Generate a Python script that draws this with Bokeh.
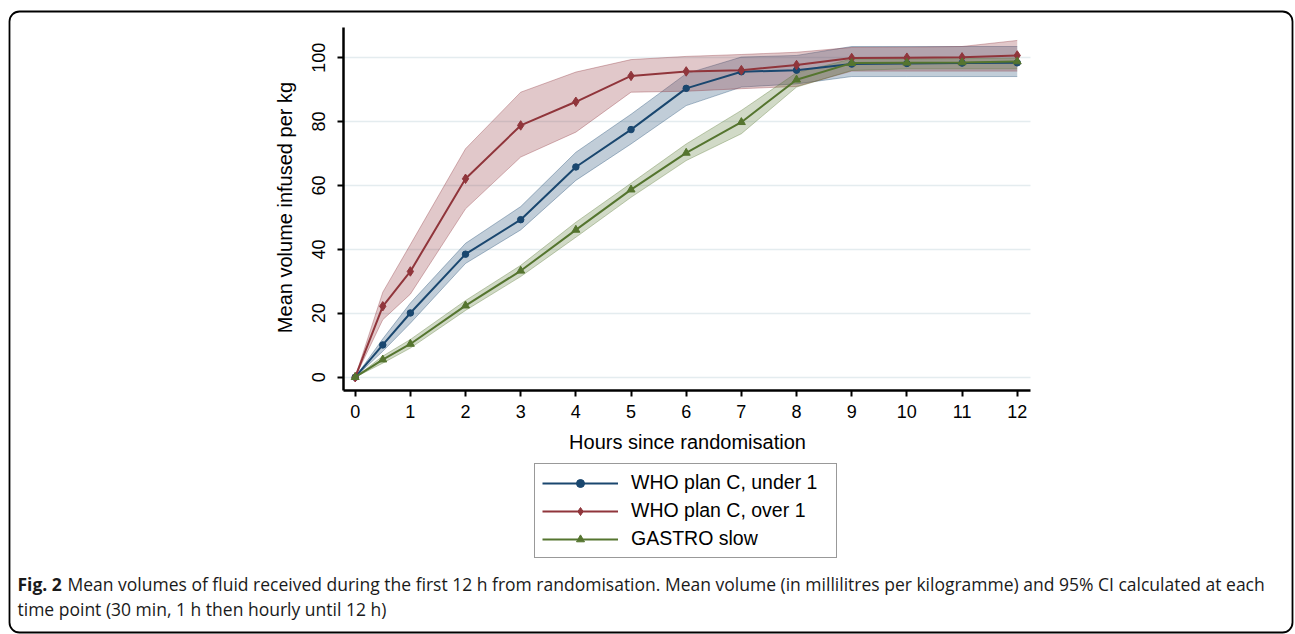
import math
from bokeh.plotting import figure
from bokeh.models import (Range1d, Label, BoxAnnotation, Legend, LegendItem,
                          FixedTicker)
from bokeh.embed import file_html
from bokeh.resources import INLINE

# ---------------- data ----------------
hours = [0, 0.5, 1, 2, 3, 4, 5, 6, 7, 8, 9, 10, 11, 12]

under1_mean = [0, 10.1, 20.1, 38.5, 49.3, 65.8, 77.5, 90.4, 95.6, 96.1, 98.0, 98.2, 98.3, 98.4]
under1_lo = [0, 8.1, 16.9, 35.6, 46.1, 61.6, 73.0, 85.0, 90.8, 91.8, 94.1, 94.1, 94.1, 94.1]
under1_hi = [0, 12.0, 23.2, 41.9, 53.4, 70.4, 82.3, 95.0, 100.2, 100.7, 103.5, 103.5, 103.5, 103.5]

over1_mean = [0, 22.2, 33.1, 62.1, 78.8, 86.2, 94.3, 95.7, 96.1, 97.7, 99.9, 100.0, 100.1, 100.7]
over1_lo = [0, 18.0, 26.0, 52.7, 68.9, 76.7, 89.2, 89.5, 90.3, 91.0, 95.8, 95.8, 95.8, 95.8]
over1_hi = [0, 26.6, 41.5, 71.5, 89.2, 95.5, 99.4, 100.4, 101.0, 101.7, 103.2, 103.3, 103.5, 105.4]

gastro_mean = [0, 5.5, 10.4, 22.4, 33.3, 46.1, 58.7, 70.2, 79.8, 93.1, 98.3, 98.4, 98.5, 98.8]
gastro_lo = [0, 4.4, 9.1, 20.9, 31.5, 43.8, 56.3, 67.8, 76.2, 90.8, 96.0, 96.5, 96.5, 96.5]
gastro_hi = [0, 6.6, 11.8, 24.0, 35.0, 48.5, 60.7, 73.0, 83.5, 95.3, 99.6, 99.6, 99.7, 99.9]

series_names = ["WHO plan C, under 1", "WHO plan C, over 1", "GASTRO slow"]
x_ticks = [0, 1, 2, 3, 4, 5, 6, 7, 8, 9, 10, 11, 12]
y_ticks = [0, 20, 40, 60, 80, 100]

x_title = "Hours since randomisation"
y_title = "Mean volume infused per kg"
caption_bold = "Fig. 2"
caption_line1 = ("Mean volumes of fluid received during the first 12 h from randomisation. "
                 "Mean volume (in millilitres per kilogramme) and 95% CI calculated at each")
caption_line2 = "time point (30 min, 1 h then hourly until 12 h)"

# ---------------- layout / styling ----------------
BLUE, RED, GREEN = "#1a476f", "#90353b", "#55752f"
FONT = "Liberation Sans"
CAP_FONT = "Open Sans"
W, H = 1295, 634

# plot-region limits (data units) -> axis extents
X_LO, X_HI = -0.212, 12.24
Y_LO, Y_HI = -4.16, 109.5

# the frame covers the whole canvas; the axes sit inside it at fixed locations
p = figure(width=W, height=H, output_backend="svg", toolbar_location=None,
           x_range=Range1d(-6.429, 17.044), y_range=Range1d(-80.53, 117.9),
           min_border_left=0, min_border_right=0,
           min_border_top=0, min_border_bottom=0)
p.outline_line_color = None
p.background_fill_color = "white"
p.border_fill_color = "white"

# grid
p.xgrid.grid_line_color = None
yg = p.ygrid[0]
yg.ticker = FixedTicker(ticks=y_ticks)
if "cross_bounds" in yg.properties():
    yg.grid_line_color = "#e4ecef"
    yg.grid_line_width = 1.6
    yg.cross_bounds = (X_LO, X_HI)
else:
    yg.grid_line_color = None
    p.segment(x0=[X_LO] * len(y_ticks), x1=[X_HI] * len(y_ticks),
              y0=y_ticks, y1=y_ticks, line_color="#e4ecef", line_width=1.6)

# axes
for ax in (p.xaxis[0], p.yaxis[0]):
    ax.axis_line_width = 2.5
    ax.axis_line_color = "black"
    ax.major_tick_line_width = 2
    ax.major_tick_line_color = "black"
    ax.major_tick_out = 6
    ax.major_tick_in = 0
    ax.minor_tick_line_color = None
    ax.major_label_text_font = FONT
    ax.major_label_text_font_size = "18px"
    ax.major_label_text_color = "black"

p.xaxis.ticker = FixedTicker(ticks=x_ticks)
p.yaxis.ticker = FixedTicker(ticks=y_ticks)
p.xaxis.fixed_location = Y_LO
p.yaxis.fixed_location = X_LO
p.xaxis.bounds = (X_LO, X_HI)
p.yaxis.bounds = (Y_LO, Y_HI)
p.xaxis.major_label_standoff = 9
p.yaxis.major_label_orientation = "vertical"
p.yaxis.major_label_standoff = 12

# axis titles
p.add_layout(Label(x=687, y=H - 441, x_units="screen", y_units="screen",
                   text=x_title, text_font=FONT, text_font_size="20px",
                   text_color="black", text_align="center", text_baseline="middle"))
p.add_layout(Label(x=284, y=H - 207, x_units="screen", y_units="screen",
                   text=y_title, text_font=FONT, text_font_size="20px", angle=math.pi / 2,
                   text_color="black", text_align="center", text_baseline="middle"))

# CI bands
bands = [(under1_lo, under1_hi, BLUE), (over1_lo, over1_hi, RED), (gastro_lo, gastro_hi, GREEN)]
for lo, hi, c in bands:
    p.varea(x=hours, y1=lo, y2=hi, fill_color=c, fill_alpha=0.27)
    p.line(hours, lo, line_color=c, line_alpha=0.35, line_width=1)
    p.line(hours, hi, line_color=c, line_alpha=0.35, line_width=1)

# means
items = []
specs = [(under1_mean, BLUE, "circle", 6.5), (over1_mean, RED, "diamond", 9.5),
         (gastro_mean, GREEN, "triangle", 8)]
for (vals, c, mk, sz), name in zip(specs, series_names):
    lr = p.line(hours, vals, line_color=c, line_width=2)
    sr = p.scatter(hours, vals, marker=mk, size=sz, fill_color=c, line_color=c)
    items.append(LegendItem(label=name, renderers=[lr, sr]))

LEG_TOP, LEG_H = 466, 92
legend = Legend(items=items, location=(534, H - LEG_TOP - LEG_H), orientation="vertical",
                label_text_font=FONT, label_text_font_size="19.5px",
                label_text_color="black", glyph_width=76, glyph_height=20,
                label_height=20, label_width=198, label_standoff=13,
                spacing=5, padding=7, margin=0,
                border_line_color="#333333", border_line_width=1.5,
                background_fill_color="white", background_fill_alpha=1)
p.add_layout(legend, "center")

# caption
CAP_SIZE = "17.5px"
p.add_layout(Label(x=17, y=H - 583, x_units="screen", y_units="screen",
                   text=caption_bold, text_font=CAP_FONT, text_font_size=CAP_SIZE,
                   text_font_style="bold", text_color="#1a1a1a",
                   text_baseline="alphabetic"))
p.add_layout(Label(x=67, y=H - 583, x_units="screen", y_units="screen",
                   text=caption_line1, text_font=CAP_FONT, text_font_size=CAP_SIZE,
                   text_color="#1a1a1a", text_baseline="alphabetic"))
p.add_layout(Label(x=17, y=H - 608, x_units="screen", y_units="screen",
                   text=caption_line2, text_font=CAP_FONT, text_font_size=CAP_SIZE,
                   text_color="#1a1a1a", text_baseline="alphabetic"))

# outer rounded frame
p.add_layout(BoxAnnotation(left=9, right=1292, top=H - 11, bottom=H - 632,
                           left_units="screen", right_units="screen",
                           top_units="screen", bottom_units="screen",
                           fill_alpha=0, line_color="black", line_alpha=1,
                           line_width=1.8, border_radius=10, level="overlay"))

open("out.html", "w").write(file_html(p, INLINE))
